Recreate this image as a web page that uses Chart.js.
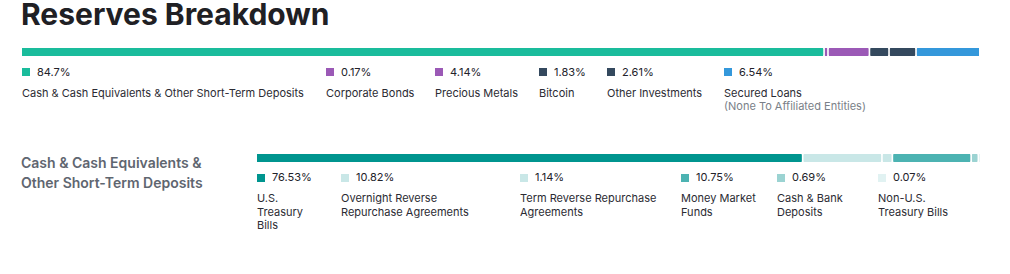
<!DOCTYPE html>
<html>
<head>
<meta charset="utf-8">
<script src="https://cdn.jsdelivr.net/npm/chart.js@4.4.1/dist/chart.umd.min.js"></script>
<style>
  html, body { margin: 0; padding: 0; background: #fff; }
  body { width: 1010px; height: 274px; position: relative; overflow: hidden; font-family: Inter, "Noto Sans", sans-serif; }
  .abs { position: absolute; }
  #title { left: 21px; top: 0px; font-size: 30px; font-weight: 700; color: #202024; line-height: 29px; white-space: nowrap; }
  .barbox { position: absolute; }
  .item { position: absolute; font-size: 11px; color: #2b2b33; }
  .pct { position: absolute; left: 0; white-space: nowrap; line-height: 13px; color: #22222a; }
  .sw { display: inline-block; width: 8px; height: 8px; margin-right: 7px; vertical-align: -0.5px; }
  .lbl { position: absolute; left: 0; line-height: 13.6px; }
  .note { color: #7a7f88; }
  #cashTitle { left: 21px; top: 153px; font-size: 14px; font-weight: 600; color: #5f6670; line-height: 20px; }
</style>
</head>
<body>
<div id="title" class="abs">Reserves Breakdown</div>
<div class="barbox" id="topBox" style="left:22px; top:48px; width:957px; height:8px;"><canvas id="topBar"></canvas></div>
<div id="topLegend"></div>
<div id="cashTitle" class="abs">Cash &amp; Cash Equivalents &amp;<br>Other Short-Term Deposits</div>
<div class="barbox" id="cashBox" style="left:257px; top:154px; width:723px; height:8px;"><canvas id="cashBar"></canvas></div>
<div id="cashLegend"></div>
<script>
// reserves breakdown (top bar)
var topLabels = ["Cash & Cash Equivalents & Other Short-Term Deposits", "Corporate Bonds", "Precious Metals", "Bitcoin", "Other Investments", "Secured Loans"];
var topNotes = ["", "", "", "", "", "(None To Affiliated Entities)"];
var topValues = [84.7, 0.17, 4.14, 1.83, 2.61, 6.54];
var topColors = ["#1abc9c", "#9b59b6", "#9b59b6", "#34495e", "#34495e", "#3498db"];

// cash & cash equivalents (second bar)
var cashLabels = ["U.S. Treasury Bills", "Overnight Reverse Repurchase Agreements", "Term Reverse Repurchase Agreements", "Money Market Funds", "Cash & Bank Deposits", "Non-U.S. Treasury Bills"];
var cashValues = [76.53, 10.82, 1.14, 10.75, 0.69, 0.07];
var cashColors = ["#00958f", "#c9e7e7", "#c9e7e7", "#4cb3b2", "#9bd3d2", "#e1f2f2"];

// legend layout (left edge and text width of each column)
var topCols = [[22, 300], [326, 105], [435, 100], [539, 64], [607, 112], [724, 180]];
var cashCols = [[257, 62], [341, 150], [520, 150], [681, 86], [777, 86], [878, 86]];
var GAP = 2.3; // px between segments

// segments laid out like a flex row with gaps: floating bars [start, end]
function stackBar(id, values, colors, widthPx) {
	var total = values.reduce(function(a, b) { return a + b; }, 0);
	var n = values.length;
	var gapUnits = GAP * total / (widthPx - (n - 1) * GAP);
	var pos = 0;
	var datasets = values.map(function(v, i) {
		var seg = [pos, pos + v];
		pos += v + gapUnits;
		return {
			data: [seg],
			backgroundColor: colors[i],
			borderWidth: 0,
			borderSkipped: false,
			borderRadius: 1.5,
			grouped: false,
			barPercentage: 1,
			categoryPercentage: 1
		};
	});
	new Chart(document.getElementById(id), {
		type: "bar",
		data: { labels: [""], datasets: datasets },
		options: {
			indexAxis: "y",
			responsive: true,
			maintainAspectRatio: false,
			animation: false,
			layout: { padding: 0 },
			plugins: { legend: { display: false }, tooltip: { enabled: false } },
			scales: {
				x: { display: false, min: 0, max: total + (n - 1) * gapUnits },
				y: { display: false }
			}
		}
	});
}

function legend(boxId, labels, notes, values, colors, cols, pctTop, lblTop, wrap) {
	var box = document.getElementById(boxId);
	labels.forEach(function(lab, i) {
		var it = document.createElement("div");
		it.className = "item";
		it.style.left = cols[i][0] + "px";
		it.style.top = "0px";
		var p = document.createElement("div");
		p.className = "pct";
		p.style.top = pctTop + "px";
		p.innerHTML = '<span class="sw" style="background:' + colors[i] + '"></span>' + values[i] + "%";
		var l = document.createElement("div");
		l.className = "lbl";
		l.style.top = lblTop + "px";
		l.style.width = cols[i][1] + "px";
		if (!wrap) l.style.whiteSpace = "nowrap";
		l.textContent = lab;
		if (notes && notes[i]) {
			var n = document.createElement("div");
			n.className = "note";
			n.textContent = notes[i];
			l.appendChild(n);
		}
		it.appendChild(p);
		it.appendChild(l);
		box.appendChild(it);
	});
}

stackBar("topBar", topValues, topColors, 957);
stackBar("cashBar", cashValues, cashColors, 723);
legend("topLegend", topLabels, topNotes, topValues, topColors, topCols, 65.5, 86.5, false);
legend("cashLegend", cashLabels, null, cashValues, cashColors, cashCols, 171, 192, true);
</script>
</body>
</html>
